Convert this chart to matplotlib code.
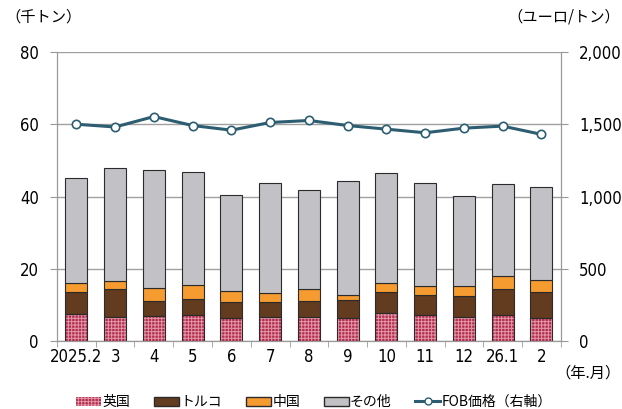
import matplotlib
matplotlib.use("Agg")
import matplotlib.pyplot as plt
import numpy as np

plt.rcParams['font.family'] = ['DejaVu Sans']
plt.rcParams['hatch.linewidth'] = 0.7

categories = ["2025.2", "3", "4", "5", "6", "7", "8", "9", "10", "11", "12", "26.1", "2"]
uk = [7.6, 6.8, 7.0, 7.2, 6.3, 6.8, 6.6, 6.3, 7.9, 7.2, 6.6, 7.2, 6.3]
turkey_top = [13.5, 14.4, 11.1, 11.6, 10.8, 10.8, 11.1, 11.3, 13.5, 12.8, 12.5, 14.4, 13.5]
china_top = [16.0, 16.5, 14.7, 15.4, 13.8, 13.3, 14.3, 12.8, 16.0, 15.2, 15.2, 18.0, 16.9]
total = [45.1, 48.0, 47.3, 46.8, 40.3, 43.8, 41.8, 44.3, 46.4, 43.7, 40.2, 43.6, 42.6]
turkey = [t - u for t, u in zip(turkey_top, uk)]
china = [c - t for c, t in zip(china_top, turkey_top)]
other = [s - c for s, c in zip(total, china_top)]
fob = [1500, 1481, 1553, 1491, 1459, 1512, 1526, 1491, 1466, 1441, 1473, 1487, 1430]

tickfont = dict(family='DejaVu Sans', stretch='condensed', size=12)

fig = plt.figure(figsize=(6.22, 4.09), dpi=100)
ax = fig.add_axes([0.0916, 0.166, 0.810, 0.707])
x = np.arange(len(categories))
w = 0.57
edge = '#2b2b2b'
ukc = '#B0304F'
ukh = '#E596A8'

ax.bar(x, uk, w, color=ukc, edgecolor=ukh, hatch='+++++', linewidth=0, zorder=3)
ax.bar(x, uk, w, facecolor='none', edgecolor=edge, linewidth=0.8, zorder=4)
ax.bar(x, turkey, w, bottom=uk, color='#633B1E', edgecolor=edge, linewidth=0.8, zorder=3)
ax.bar(x, china, w, bottom=turkey_top, color='#F59B30', edgecolor=edge, linewidth=0.8, zorder=3)
ax.bar(x, other, w, bottom=china_top, color='#C2C2C6', edgecolor=edge, linewidth=0.8, zorder=3)

ax.set_xlim(-0.5, len(categories) - 0.5)
ax.set_ylim(0, 80)
ax.set_yticks([0, 20, 40, 60, 80])
ax.set_yticklabels(['0', '20', '40', '60', '80'], **tickfont)
ax.grid(axis='y', color='#A0A0A0', linewidth=1.0, zorder=0)
ax.set_xticks(x)
ax.set_xticklabels(categories, **tickfont)
ax.set_xticks(np.arange(-0.5, len(categories), 1.0), minor=True)
ax.tick_params(axis='x', which='major', length=0, pad=5)
ax.tick_params(axis='x', which='minor', length=4, color='#999999')
ax.tick_params(axis='y', length=5, color='#999999', pad=8)
ax.spines['top'].set_visible(False)
for s in ['left', 'right', 'bottom']:
    ax.spines[s].set_color('#999999')

ax2 = ax.twinx()
ax2.set_ylim(0, 2000)
ax2.set_yticks([0, 500, 1000, 1500, 2000])
ax2.set_yticklabels(['0', '500', '1,000', '1,500', '2,000'], **tickfont)
ax2.tick_params(axis='y', length=5, color='#999999', pad=8)
ax2.spines['top'].set_visible(False)
for s in ['left', 'right', 'bottom']:
    ax2.spines[s].set_color('#999999')
ax2.plot(x, fob, color='#2C5D70', linewidth=2.2, marker='o', markersize=6,
         markerfacecolor='white', markeredgecolor='#2C5D70', markeredgewidth=1.2, zorder=5)

jp = ['Noto Sans CJK JP']
fig.text(0.008, 0.958, '（千トン）', fontsize=11, ha='left', va='center', family=jp)
fig.text(0.997, 0.958, '（ユーロ/トン）', fontsize=11, ha='right', va='center', family=jp)
fig.text(0.997, 0.088, '（年.月）', fontsize=11, ha='right', va='center', family=jp)

from matplotlib.patches import Patch
from matplotlib.lines import Line2D
handles = [
    Patch(facecolor=ukc, edgecolor=ukh, hatch='+++++', linewidth=0),
    Patch(facecolor='#633B1E', edgecolor=edge),
    Patch(facecolor='#F59B30', edgecolor=edge),
    Patch(facecolor='#C2C2C6', edgecolor=edge),
    Line2D([0], [0], color='#2C5D70', linewidth=2.2, marker='o', markersize=5,
           markerfacecolor='white', markeredgecolor='#2C5D70'),
]
labels = ['英国', 'トルコ', '中国', 'その他', 'FOB価格（右軸）']
fig.legend(handles, labels, loc='center', bbox_to_anchor=(0.505, 0.017), ncol=5, frameon=False,
           prop={'family': jp, 'size': 10}, handlelength=1.8, handleheight=0.6,
           handletextpad=0.1, columnspacing=1.7)

fig.savefig('out.png', dpi=100)
